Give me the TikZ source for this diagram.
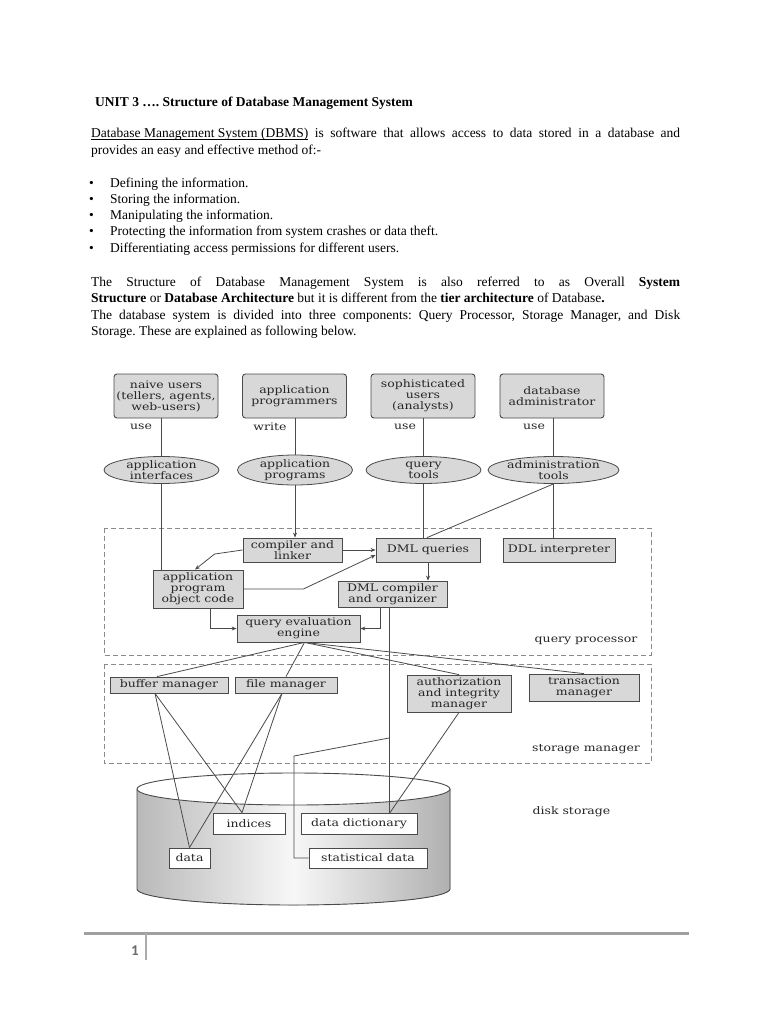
\documentclass[tikz,border=0pt]{standalone}
\usepackage{fontspec}
\setmainfont{Liberation Serif}
\newfontfamily\numfont{Carlito}
\newfontfamily\dgmfam[FakeStretch=1.2]{DejaVu Serif}
\usetikzlibrary{shapes.geometric,arrows.meta,calc}
\newcommand\bodyf{\fontsize{13.5pt}{16pt}\selectfont}
\newcommand\dgmf{\dgmfam\fontsize{10.4pt}{11pt}\selectfont}
\definecolor{ln}{HTML}{4A4A4A}
\definecolor{bx}{HTML}{D8D8D8}
\definecolor{tx}{HTML}{262626}
\definecolor{dsh}{HTML}{8A8A8A}
\frenchspacing
\begin{document}
\begin{tikzpicture}[x=1pt,y=-1pt,
 txt/.style={anchor=base west, inner sep=0pt, font=\bodyf, text=black},
 ubox/.style={draw=ln, fill=bx, rounded corners=3pt, line width=0.9pt, align=center, font=\dgmf, text=tx, inner sep=1pt, minimum height=44pt, minimum width=104pt},
 tool/.style={ellipse, draw=ln, fill=bx, line width=0.8pt, align=center, font=\dgmf, text=tx, inner sep=0pt, minimum height=27pt, minimum width=115pt},
 pbox/.style={draw=ln, fill=bx, line width=0.8pt, align=center, font=\dgmf, text=tx, inner sep=1pt},
 dbox/.style={draw=ln, fill=white, line width=0.8pt, align=center, font=\dgmf, text=tx, inner sep=1pt},
 lbl/.style={font=\dgmf, text=tx, inner sep=0pt},
 conn/.style={draw=ln, line width=0.8pt},
 arr/.style={conn, -{Stealth[length=5pt,width=4pt]}},
 region/.style={draw=dsh, line width=0.9pt, dash pattern=on 5pt off 3pt},
]
\fill[white] (0,0) rectangle (770,1024);
\useasboundingbox (0,0) rectangle (770,1024);

% ---------- header text ----------
\node[txt] (title) at (95,107) {\textbf{UNIT 3 …. Structure of Database Management System}};
\node[txt] (p1) at (91,138) {\makebox[589pt][s]{\underline{\smash{Database Management System (DBMS)}} is software that allows access to data stored in a database and}};
\node[txt] (p2) at (91,155) {provides an easy and effective method of:-};
\foreach \y/\t [count=\i] in {188/Defining the information.,204/Storing the information.,220/Manipulating the information.,236/Protecting the information from system crashes or data theft.,252/Differentiating access permissions for different users.}{
  \node[txt] (b\i) at (89,\y) {•};
  \node[txt] (t\i) at (110,\y) {\t};
}
\node[txt] (q1) at (91,286) {\makebox[589pt][s]{The Structure of Database Management System is also referred to as Overall \textbf{System}}};
\node[txt] (q2) at (91,302) {\textbf{Structure} or \textbf{Database Architecture} but it is different from the \textbf{tier architecture} of Database\textbf{.}};
\node[txt] (q3) at (91,319) {\makebox[589pt][s]{The database system is divided into three components: Query Processor, Storage Manager, and Disk}};
\node[txt] (q4) at (91,335) {Storage. These are explained as following below.};

% ---------- disk cylinder (drawn first, behind) ----------
\fill[left color=gray!55, right color=gray!62, middle color=gray!6] (137,789) -- (137,889) arc[start angle=180, end angle=360, x radius=156.5pt, y radius=16pt] -- (450,789) -- cycle;
\draw[ln, line width=0.9pt] (137,789) -- (137,889) arc[start angle=180, end angle=360, x radius=156.5pt, y radius=16pt] -- (450,789);
\filldraw[draw=ln, fill=white, line width=0.9pt] (293.5,789) ellipse [x radius=156.5pt, y radius=16pt];

% ---------- regions ----------
\draw[region] (104,528) rectangle (651,655);
\draw[region] (104,664) rectangle (651,763);

% ---------- users ----------
\node[ubox] (naive) at (166,396) {naive users\\(tellers, agents,\\web-users)};
\node[ubox] (apppr) at (294.5,396) {application\\programmers};
\node[ubox] (soph) at (423,396) {sophisticated\\users\\(analysts)};
\node[ubox] (dba) at (552,396) {database\\administrator};

\node[lbl] (u1) at (141,427) {use};
\node[lbl] (u2) at (270,427) {write};
\node[lbl] (u3) at (405,427) {use};
\node[lbl] (u4) at (534,427) {use};

\node[tool] (iface) at (161.5,470) {application\\interfaces};
\node[tool] (progs) at (295,470) {application\\programs};
\node[tool] (qtools) at (423.5,470) {query\\tools};
\node[tool] (admt) at (553.5,470) {administration\\tools};

% ---------- query processor ----------
\node[pbox, minimum width=99pt, minimum height=24pt] (comp) at (292.5,550) {compiler and\\linker};
\node[pbox, minimum width=104pt, minimum height=24pt] (dmlq) at (428,550) {DML queries};
\node[pbox, minimum width=112pt, minimum height=24pt] (ddl) at (559,550) {DDL interpreter};
\node[pbox, minimum width=90pt, minimum height=38pt] (obj) at (198,589) {application\\program\\object code};
\node[pbox, minimum width=109pt, minimum height=26pt] (dmlc) at (392.5,594) {DML compiler\\and organizer};
\node[pbox, minimum width=123pt, minimum height=27pt] (qe) at (298.5,628.5) {query evaluation\\engine};
\node[lbl] (qpl) at (586,641) {query processor};

% ---------- storage manager ----------
\node[pbox, minimum width=118pt, minimum height=16pt] (buf) at (169,685) {buffer manager};
\node[pbox, minimum width=102pt, minimum height=16pt] (fm) at (286,685) {file manager};
\node[pbox, minimum width=104pt, minimum height=37pt] (auth) at (459,693.5) {authorization\\and integrity\\manager};
\node[pbox, minimum width=110pt, minimum height=27pt] (trans) at (584,687.5) {transaction\\manager};
\node[lbl] (sml) at (586,749) {storage manager};

% ---------- disk storage ----------
\node[dbox, minimum width=72pt, minimum height=21pt] (ind) at (249,823.5) {indices};
\node[dbox, minimum width=116pt, minimum height=21pt] (dd) at (359,823.5) {data dictionary};
\node[dbox, minimum width=41pt, minimum height=20pt] (data) at (189.5,858) {data};
\node[dbox, minimum width=118pt, minimum height=20pt] (stats) at (368,858) {statistical data};
\node[lbl] (dsl) at (571.5,812) {disk storage};

% ---------- connectors ----------
\draw[conn] (naive.south -| iface.north) -- (iface.north);
\draw[conn] (apppr.south -| progs.north) -- (progs.north);
\draw[conn] (soph.south -| qtools.north) -- (qtools.north);
\draw[conn] (dba.south -| admt.north) -- (admt.north);

\draw[conn] (iface.south) -- (iface.south |- obj.north);
\draw[arr] (progs.south) -- (progs.south |- comp.north);
\draw[conn] (qtools.south) -- (qtools.south |- dmlq.north);
\draw[conn] (admt.south) -- (admt.south |- ddl.north);
\draw[conn] (admt.south) -- ([xshift=-1pt]dmlq.north);

\draw[arr] (comp.east) -- (dmlq.west);
\draw[arr] (comp.west) -- ++(-28,4) -- ([xshift=-3pt]obj.north);
\draw[arr] (obj.east) -- ++(60,0) -- ([yshift=-5pt]dmlq.west);
\draw[arr] (dmlq.south) -- (dmlq.south |- dmlc.north);
\draw[arr] ([xshift=12pt]obj.south) |- (qe.west);
\draw[arr] ([xshift=-12.5pt]dmlc.south) |- (qe.east);

\coordinate (vtop) at ([xshift=-3.5pt]dmlc.south);
\coordinate (br) at (vtop |- 0,738);
\draw[conn] (vtop) -- (vtop |- dd.north);
\draw[conn] (br) -- ++(-95,18) |- (stats.west);

\coordinate (qb) at ([xshift=6pt]qe.south);
\draw[conn] (qb) -- ([xshift=-12pt]buf.north);
\draw[conn] (qb) -- (fm.north);
\draw[conn] (qb) -- (auth.north);
\draw[conn] (qb) -- (trans.north);

\draw[conn] ([xshift=-14pt]buf.south) -- (data.north);
\draw[conn] ([xshift=-14pt]buf.south) -- ([xshift=-7pt]ind.north);
\draw[conn] ([xshift=-4pt]fm.south) -- ([xshift=-7pt]ind.north);
\draw[conn] ([xshift=-4pt]fm.south) -- (data.north);
\draw[conn] (auth.south) -- ([xshift=31pt]dd.north);

% ---------- footer ----------
\draw[line width=3pt, draw=gray!75] (84,933) -- (689,933);
\draw[line width=1.8pt, draw=gray!65] (146,933) -- (146,960);
\node[inner sep=0pt, anchor=base east, font=\numfont\bfseries\fontsize{15pt}{15pt}\selectfont, text=gray!85!black] (pg) at (139,955) {1};
\end{tikzpicture}
\end{document}
